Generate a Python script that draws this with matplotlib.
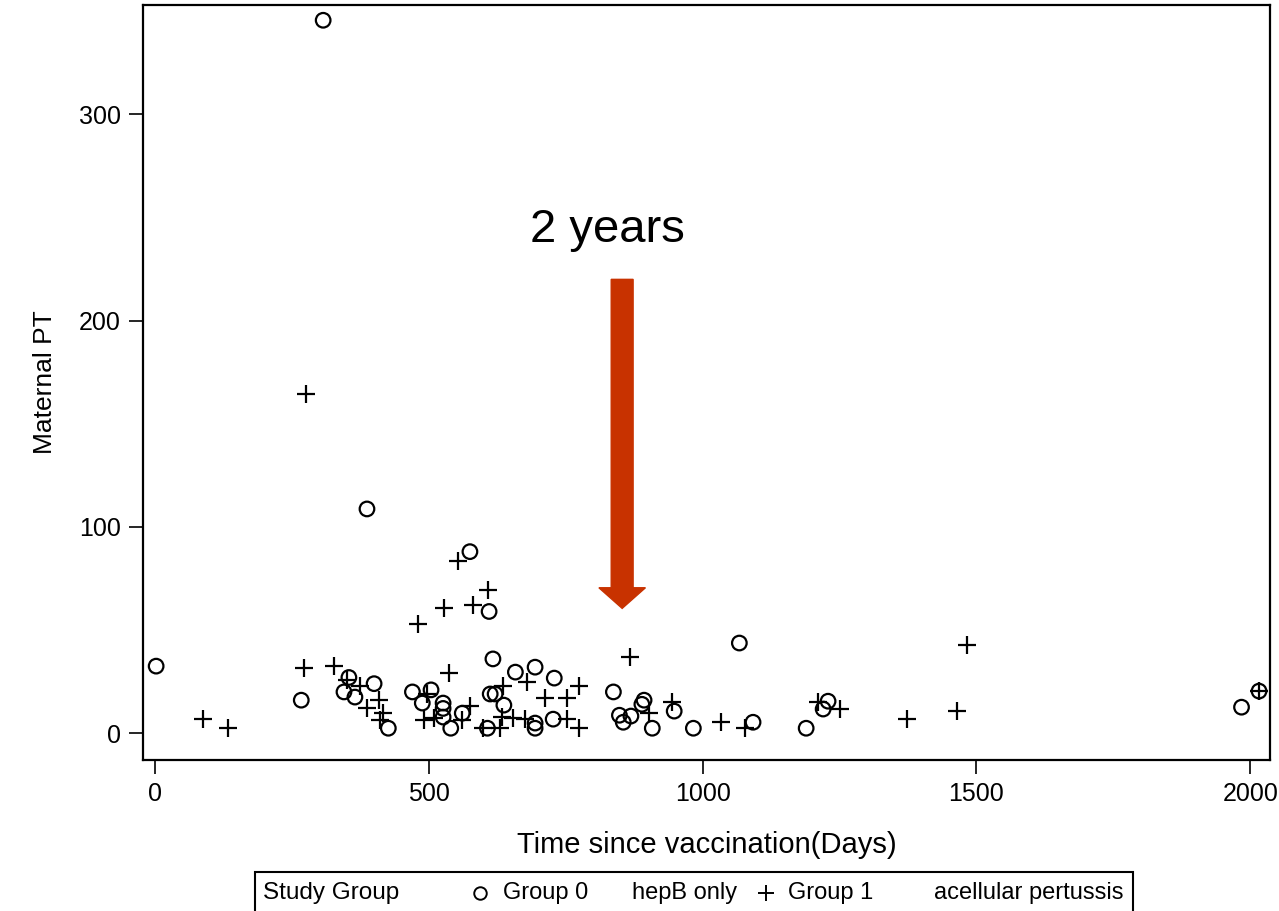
import matplotlib
matplotlib.use('Agg')
import matplotlib.pyplot as plt
from matplotlib.patches import Rectangle, FancyArrow
from matplotlib.lines import Line2D

plt.rcParams['font.family'] = ['Liberation Sans', 'DejaVu Sans']

# Group 0 (hepB only) - circles
g0_days = [2, 267, 307, 354, 345, 365, 400, 426, 470, 504, 488, 526, 526, 526,
           540, 561, 617, 612, 621, 637, 607, 658, 694, 729, 694, 694, 727, 837,
           848, 855, 869, 889, 893, 908, 948, 983, 1067, 1092, 1189, 1229, 1220,
           1984, 2016, 387, 575, 610]
g0_pt = [32.5, 16, 345.6, 27, 20, 17.5, 24, 2.4, 20, 21, 14.6, 14.6, 12, 7.8,
         2.4, 9.7, 36, 19, 19, 13.6, 2.4, 29.6, 32, 26.7, 4.9, 2.4, 6.8, 20,
         8.7, 5.3, 8.3, 14, 16, 2.4, 10.7, 2.4, 43.7, 5.3, 2.4, 15.5, 11.7,
         12.6, 20.4, 108.7, 88, 59]

# Group 1 (acellular pertussis) - plus
g1_days = [88, 133, 272, 327, 350, 374, 387, 409, 416, 411, 497, 491, 481, 537,
           509, 575, 561, 636, 599, 630, 634, 654, 676, 679, 712, 752, 774, 753,
           774, 868, 902, 944, 1034, 1078, 1211, 1251, 1374, 1465, 1483, 2016,
           276, 553, 608, 581, 528]
g1_pt = [6.8, 2.4, 31.5, 32.5, 25.7, 23, 12, 16, 10, 6.3, 19, 6.3, 53, 29,
         7.3, 13, 6.3, 23, 2.4, 2.4, 7.8, 7.3, 6.8, 25, 17, 17, 23, 6.8,
         2.4, 37, 9.7, 15, 5.3, 2.4, 15, 11.7, 6.8, 10.7, 42.7, 20.4,
         164.6, 83.5, 69.4, 62, 60.7]

W, H = 1279, 911
fig = plt.figure(figsize=(W / 100, H / 100), dpi=100)
ax = fig.add_axes([143 / W, 1 - 760 / H, (1270 - 143) / W, (760 - 5) / H])

ax.scatter(g0_days, g0_pt, marker='o', s=110, facecolors='none',
           edgecolors='black', linewidths=1.6, zorder=3)
ax.scatter(g1_days, g1_pt, marker='+', s=150, color='black',
           linewidths=1.6, zorder=3)

ax.set_xlim(-22, 2036)
ax.set_ylim(-13, 353)
ax.set_xticks([0, 500, 1000, 1500, 2000])
ax.set_yticks([0, 100, 200, 300])
ax.tick_params(labelsize=18, length=10, width=1.2, direction='out', pad=6)
for s in ax.spines.values():
    s.set_linewidth(1.6)
ax.set_xlabel('Time since vaccination(Days)', fontsize=21, labelpad=18)
ax.set_ylabel('Maternal PT', fontsize=19, labelpad=16)

# annotation arrow and text
ax.add_patch(FancyArrow(853, 220, 0, -159.5, width=40, head_width=85,
                        head_length=10, length_includes_head=True,
                        color='#C83200', zorder=4))
ax.text(826, 244, '2 years', fontsize=34, ha='center', va='center')

# legend box at the bottom
fig.patches.append(Rectangle((255 / W, -0.01), (1133 - 255) / W,
                             (1 - 872 / H) + 0.01, transform=fig.transFigure,
                             facecolor='white', edgecolor='black', lw=1.5))
ly = 1 - 893 / H
fig.text(263 / W, ly, 'Study Group', fontsize=17.5, va='center')
fig.add_artist(Line2D([480 / W], [ly], marker='o', ms=9, mfc='none', mec='black',
                      mew=1.4, transform=fig.transFigure))
fig.text(503 / W, ly, 'Group 0', fontsize=17, va='center')
fig.text(632 / W, ly, 'hepB only', fontsize=17, va='center')
fig.add_artist(Line2D([766 / W], [ly], marker='+', ms=12, color='black',
                      mew=1.4, transform=fig.transFigure))
fig.text(788 / W, ly, 'Group 1', fontsize=17, va='center')
fig.text(934 / W, ly, 'acellular pertussis', fontsize=17, va='center')

fig.savefig('out.png', dpi=100)
